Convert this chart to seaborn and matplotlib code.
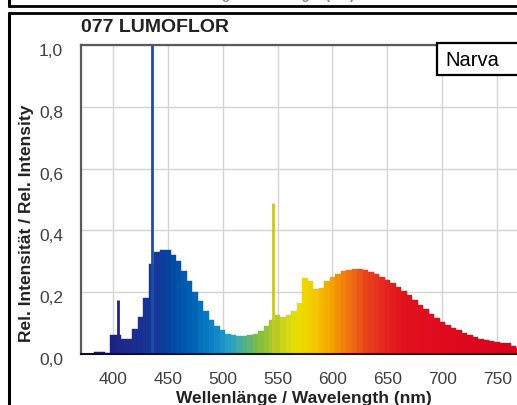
"""
Relative spectral power distribution of Narva 077 LUMOFLOR
"""
import matplotlib
matplotlib.use("Agg")
import matplotlib.pyplot as plt
import matplotlib.transforms as mtransforms
from matplotlib.colors import LinearSegmentedColormap, Normalize
from matplotlib.lines import Line2D
from matplotlib.patches import Rectangle
import seaborn as sns

# 5 nm bins
wavelength = [380, 385, 390, 395, 400, 405, 410, 415, 420, 425, 430, 435, 440,
              445, 450, 455, 460, 465, 470, 475, 480, 485, 490, 495, 500, 505,
              510, 515, 520, 525, 530, 535, 540, 545, 550, 555, 560, 565, 570,
              575, 580, 585, 590, 595, 600, 605, 610, 615, 620, 625, 630, 635,
              640, 645, 650, 655, 660, 665, 670, 675, 680, 685, 690, 695, 700,
              705, 710, 715, 720, 725, 730, 735, 740, 745, 750, 755, 760, 765,
              770]
intensity = [0.0, 0.008, 0.008, 0.004, 0.06, 0.06, 0.05, 0.05, 0.08, 0.12,
             0.18, 0.29, 0.33, 0.335, 0.335, 0.32, 0.30, 0.27, 0.235, 0.20,
             0.17, 0.14, 0.11, 0.09, 0.077, 0.066, 0.06, 0.058, 0.058, 0.06,
             0.066, 0.075, 0.09, 0.11, 0.125, 0.12, 0.125, 0.14, 0.165, 0.245,
             0.235, 0.21, 0.215, 0.235, 0.25, 0.26, 0.268, 0.273, 0.276, 0.276,
             0.272, 0.266, 0.258, 0.25, 0.24, 0.23, 0.218, 0.205, 0.19, 0.175,
             0.16, 0.145, 0.13, 0.118, 0.105, 0.095, 0.085, 0.077, 0.068, 0.06,
             0.055, 0.05, 0.045, 0.042, 0.038, 0.036, 0.034, 0.025, 0.02]

# mercury lines
line_wavelength = [405, 436, 546]
line_intensity = [0.175, 1.0, 0.49]
line_colors = ["#22248a", "#1452a8", "#c8c828"]

x_ticks = [400, 450, 500, 550, 600, 650, 700, 750]
y_ticks = [0.0, 0.2, 0.4, 0.6, 0.8, 1.0]
y_ticklabels = ["0,0", "0,2", "0,4", "0,6", "0,8", "1,0"]

sns.set_theme(style="whitegrid", rc={"grid.color": "#d4d4d4", "grid.linewidth": 1.0})
plt.rcParams["font.family"] = ["Liberation Sans", "DejaVu Sans"]

spec = LinearSegmentedColormap.from_list("spec", [
    (0.00, "#1a1a6e"), (0.08, "#1c2a8c"), (0.15, "#15389a"), (0.18, "#0048a2"),
    (0.23, "#0062b4"), (0.27, "#0a7cc4"), (0.30, "#1a92cc"), (0.33, "#34a6b8"),
    (0.35, "#52b088"), (0.38, "#7cbc48"), (0.42, "#b0cc22"), (0.45, "#d8d814"),
    (0.47, "#e8e000"), (0.51, "#f6c800"), (0.55, "#f5a000"), (0.59, "#f07214"),
    (0.62, "#ea4a1a"), (0.67, "#e42420"), (0.72, "#e2101e"), (1.00, "#d8001c")])
norm = Normalize(380, 780)

fig = plt.figure(figsize=(5.17, 4.05), dpi=100)
ax = fig.add_axes([81 / 517, 1 - 354 / 405, 1 - 81 / 517, (354 - 45) / 405])

edges = [w - 2.5 for w in wavelength] + [wavelength[-1] + 2.5]
sns.histplot(x=wavelength, weights=intensity, bins=edges, ax=ax,
             stat="count", linewidth=0, alpha=1)
for p in ax.patches:
    c = spec(norm(p.get_x() + p.get_width() / 2))
    p.set_facecolor(c)
    p.set_edgecolor(c)
    p.set_linewidth(0.3)

ax.vlines(line_wavelength, 0, line_intensity, colors=line_colors, linewidth=2.0)

ax.set_xlim(371, 768)
ax.set_ylim(0, 1.0)
ax.set_xticks(x_ticks)
ax.set_yticks(y_ticks)
ax.set_yticklabels(y_ticklabels)
ax.set_xlabel("")
ax.set_ylabel("")
ax.set_axisbelow(True)
ax.tick_params(axis="both", length=0, labelsize=12.5, labelcolor="#404040")
ax.tick_params(axis="y", pad=13)
ax.tick_params(axis="x", pad=13)
shift = mtransforms.ScaledTranslation(0, -0.05, fig.dpi_scale_trans)
for lab in ax.get_yticklabels():
    lab.set_transform(lab.get_transform() + shift)

for side in ["left", "top"]:
    ax.spines[side].set_color("#5a5a5a")
    ax.spines[side].set_linewidth(1.6)
ax.spines["bottom"].set_color("#111111")
ax.spines["bottom"].set_linewidth(1.5)
ax.spines["right"].set_visible(False)

fig.text(304 / 517, 1 - 399 / 405, "Wellenlänge / Wavelength (nm)",
         ha="center", va="center", fontsize=12.5, fontweight="bold", color="#222222")
fig.text(27 / 517, 1 - 223 / 405, "Rel. Intensität / Rel. Intensity",
         ha="center", va="center", rotation=90, fontsize=12.5,
         fontweight="bold", color="#222222")
fig.text(81 / 517, 1 - 27 / 405, "077 LUMOFLOR", ha="left", va="center",
         fontsize=14, fontweight="bold", color="#222222")

# clipped caption of the chart above
fig.text(257 / 517, 1 - 2 / 405, "Wellenlänge / Wavelength (nm)", ha="center",
         va="bottom", fontsize=9.5, fontweight="bold", color="#888888")

# Narva label box
fig.add_artist(Rectangle((437 / 517, 1 - 75 / 405), 90 / 517, 32 / 405,
                         transform=fig.transFigure, facecolor="white",
                         edgecolor="black", linewidth=1.6))
fig.text(445 / 517, 1 - 60 / 405, "Narva", ha="left", va="center",
         fontsize=14.5, color="black")

# frame lines
x0 = 9 / 517
fig.add_artist(Line2D([x0, x0], [0, 1 - 13 / 405], transform=fig.transFigure,
                      color="black", linewidth=2.2))
fig.add_artist(Line2D([x0, 1], [1 - 13 / 405, 1 - 13 / 405],
                      transform=fig.transFigure, color="black", linewidth=2.0))
fig.add_artist(Line2D([x0, 1], [1 - 6 / 405, 1 - 6 / 405],
                      transform=fig.transFigure, color="black", linewidth=2.0))
fig.add_artist(Line2D([x0, x0], [1 - 6 / 405, 1], transform=fig.transFigure,
                      color="black", linewidth=2.2))

fig.savefig("out.png", dpi=100)
